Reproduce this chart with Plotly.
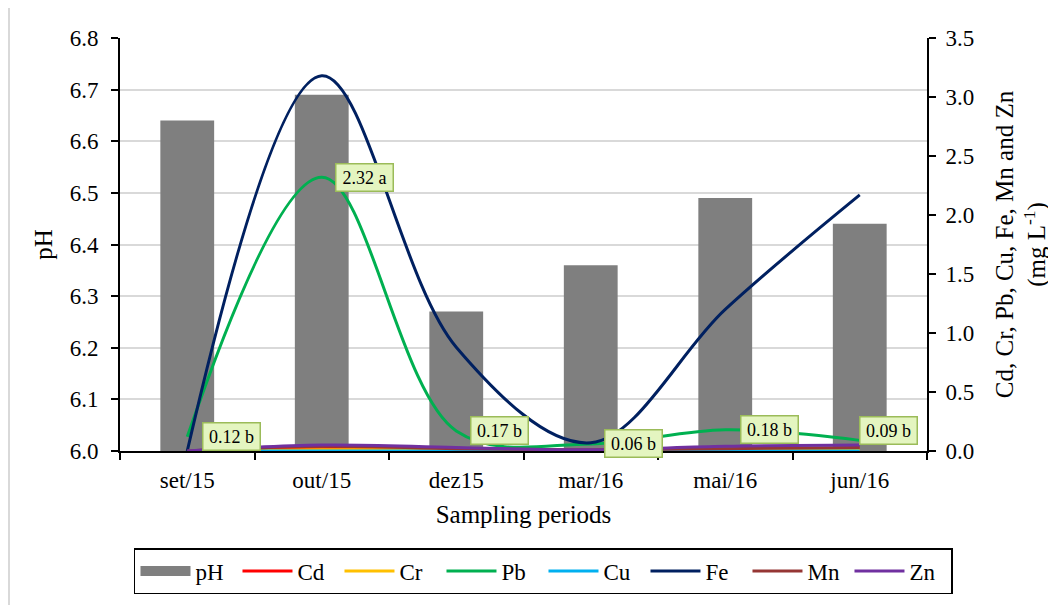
import plotly.graph_objects as go

periods = ["set/15", "out/15", "dez15", "mar/16", "mai/16", "jun/16"]
ph = [6.64, 6.69, 6.27, 6.36, 6.49, 6.44]
cd = [0.0, 0.02, 0.01, 0.005, 0.01, 0.01]
cr = [0.0, 0.01, 0.01, 0.005, 0.01, 0.01]
pb = [0.12, 2.32, 0.17, 0.06, 0.18, 0.09]
cu = [0.0, 0.0, 0.0, 0.0, 0.0, 0.0]
fe = [0.0, 3.18, 0.88, 0.07, 1.20, 2.17]
mn = [0.0, 0.04, 0.02, 0.01, 0.02, 0.03]
zn = [0.0, 0.05, 0.03, 0.01, 0.04, 0.05]
pb_labels = ["0.12 b", "2.32 a", "0.17 b", "0.06 b", "0.18 b", "0.09 b"]

label_xshift = [44, 43, 43, 43, 44, 29]
label_yshift = [0, 0, 0, 0, 0, 10]

FONT = "Liberation Serif, Times New Roman, serif"
BAR_COLOR = "#7f7f7f"

fig = go.Figure()
fig.add_trace(go.Bar(x=periods, y=ph, name="pH", marker=dict(color=BAR_COLOR, line=dict(width=0)),
                     yaxis="y", showlegend=False, legendgroup="ph"))
# legend entry for pH drawn as a wide grey swatch
fig.add_trace(go.Scatter(x=[None], y=[None], name="pH", mode="lines", yaxis="y",
                         legendgroup="ph", line=dict(color=BAR_COLOR, width=12)))

metals = [
    ("Cd", cd, "#ff0000"),
    ("Cr", cr, "#ffc000"),
    ("Pb", pb, "#00b050"),
    ("Cu", cu, "#00b0f0"),
    ("Fe", fe, "#002060"),
    ("Mn", mn, "#963634"),
    ("Zn", zn, "#7030a0"),
]
for name, vals, col in metals:
    fig.add_trace(go.Scatter(x=periods, y=vals, name=name, mode="lines", yaxis="y2",
                             line=dict(color=col, width=3, shape="spline", smoothing=1)))

annotations = []
for i, (p, v, t) in enumerate(zip(periods, pb, pb_labels)):
    annotations.append(dict(
        x=p, y=v, xref="x", yref="y2", text=t, showarrow=False,
        xshift=label_xshift[i], yshift=label_yshift[i],
        font=dict(family=FONT, size=18, color="black"),
        bgcolor="#e4f5c0", bordercolor="#9bbb59", borderwidth=1.5, borderpad=1,
        width=54, height=24,
    ))

# page body has an 8px margin: figure coords = screen coords - 8
fig.update_layout(
    width=1056, height=605,
    margin=dict(l=112, r=137, t=30, b=162),
    paper_bgcolor="white", plot_bgcolor="white",
    font=dict(family=FONT, size=23, color="black"),
    bargap=0.6,
    showlegend=True,
    legend=dict(orientation="h", x=1.0322, xanchor="right", y=-0.2349, yanchor="top",
                bordercolor="black", borderwidth=1.5, font=dict(family=FONT, size=23),
                itemwidth=50, entrywidth=37, traceorder="normal"),
    xaxis=dict(type="category", tickson="boundaries", ticks="outside", ticklen=7, tickwidth=2,
               tickcolor="black", showline=True, linecolor="black", linewidth=2,
               showgrid=False, tickfont=dict(size=23), ticklabelstandoff=7,
               title=dict(text="Sampling periods", font=dict(size=25), standoff=14)),
    yaxis=dict(range=[6.0, 6.8], dtick=0.1, tickformat=".1f", showgrid=True,
               gridcolor="#d9d9d9", gridwidth=1.5, zeroline=False,
               showline=True, linecolor="black", linewidth=2, ticks="outside", ticklen=7,
               tickwidth=2, tickcolor="black", tickfont=dict(size=23), ticklabelstandoff=8,
               title=dict(text="pH", font=dict(size=25), standoff=10)),
    yaxis2=dict(range=[0, 3.5], dtick=0.5, tickformat=".1f", overlaying="y", side="right",
                showgrid=False, zeroline=False, showline=True, linecolor="black", linewidth=2,
                ticks="outside", ticklen=7, tickwidth=2, tickcolor="black", tickfont=dict(size=23),
                ticklabelstandoff=5,
                title=dict(text="Cd, Cr, Pb, Cu, Fe, Mn and Zn<br>(mg L<sup>-1</sup>)",
                           font=dict(size=25), standoff=22)),
    annotations=annotations,
    shapes=[dict(type="rect", xref="paper", yref="paper",
                 x0=-111 / 807, x1=1.2,
                 y0=-0.5, y1=(443 + 1) / 413,
                 line=dict(color="#d9d9d9", width=2), fillcolor="rgba(0,0,0,0)", layer="below")],
)

fig.write_html("out.html")
